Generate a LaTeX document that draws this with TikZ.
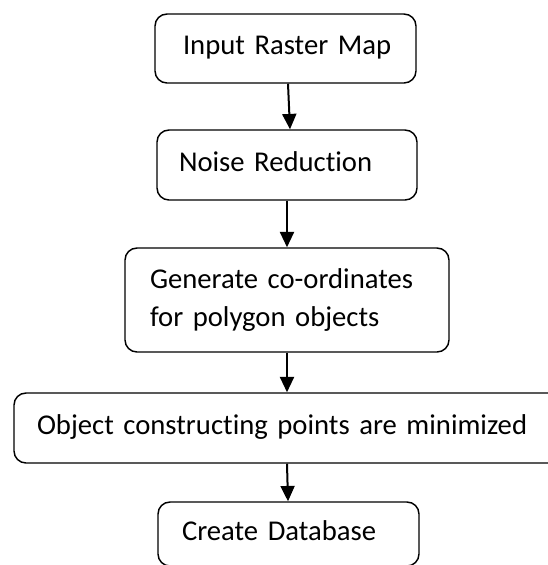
\documentclass[tikz,border=0pt]{standalone}
\usepackage{fontspec}
\setmainfont{Carlito}[Ligatures=NoCommon]
\usetikzlibrary{arrows.meta}
\begin{document}
\begin{tikzpicture}[x=0.75pt,y=-0.75pt,
  box/.style={draw, line width=1.1pt, rounded corners=9pt, align=left,
    inner ysep=0pt, font=\fontsize{21.5pt}{28.5pt}\selectfont},
  oneline/.style={text height=13.5pt, text depth=4.2pt},
  flow/.style={line width=1.5pt, -{Triangle[width=10.5pt,length=11.5pt]}}]
\useasboundingbox (0,0) rectangle (548,565);
\clip (0,0) rectangle (548,565);
\node[box, oneline, minimum width=261*0.75pt, minimum height=69*0.75pt,
  inner xsep=28*0.75pt, text width=205*0.75pt] (b1) at (285.5,48.5) {\mbox{Input Raster Map}};
\node[box, oneline, minimum width=260*0.75pt, minimum height=70*0.75pt,
  inner xsep=22*0.75pt, text width=216*0.75pt] (b2) at (287,165) {\mbox{Noise Reduction}};
\node[box, minimum width=324*0.75pt, minimum height=104*0.75pt,
  inner xsep=25*0.75pt, text width=274*0.75pt] (b3) at (287,300) {\mbox{Generate co-ordinates}\\\mbox{for polygon objects}};
\node[box, oneline, minimum width=566*0.75pt, minimum height=70*0.75pt,
  inner xsep=23*0.75pt, text width=520*0.75pt] (b4) at (297,428) {\mbox{Object constructing points are minimized}};
\node[box, oneline, minimum width=261*0.75pt, minimum height=64*0.75pt,
  inner xsep=24*0.75pt, text width=213*0.75pt] (b5) at (288.5,534) {\mbox{Create Database}};
\draw[flow] ([xshift=2.5*0.75pt]b1.south) -- ([xshift=3*0.75pt]b2.north);
\draw[flow] (b2.south) -- (b3.north);
\draw[flow] (b3.south) -- (b4.north -| b3.south);
\draw[flow] (b4.south -| b3.south) -- ([xshift=-0.5*0.75pt]b5.north);
\end{tikzpicture}
\end{document}
